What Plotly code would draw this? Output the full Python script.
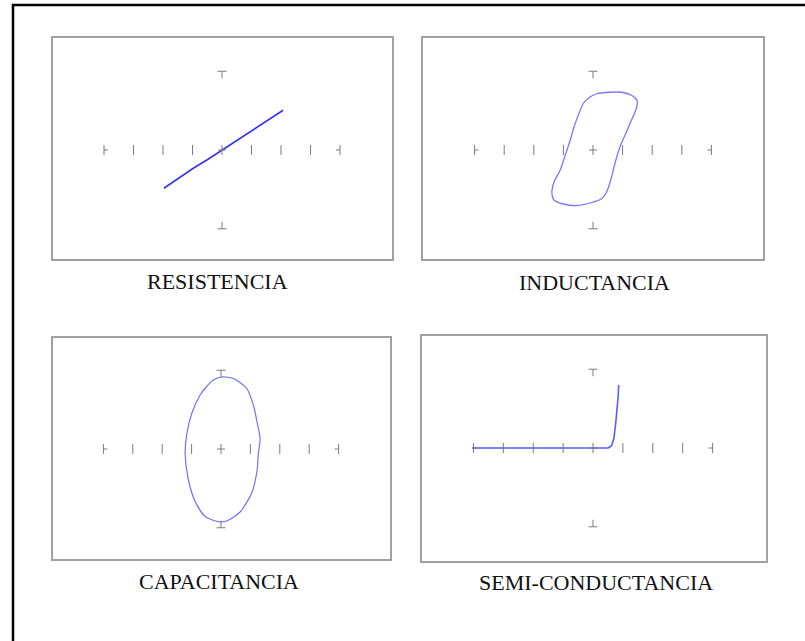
import plotly.graph_objects as go

W, H = 805, 641

# ---------------- data (x in screen divisions, y normalised to T marker) -------------
TITLES = ["RESISTENCIA", "INDUCTANCIA", "CAPACITANCIA", "SEMI-CONDUCTANCIA"]

TICKS_X = [-4, -3, -2, -1, 0, 1, 2, 3, 4]
TICK_Y_MARK = 1.05

res_x = [-1.97, -1.5, -1.0, -0.5, 0.0, 0.5, 1.0, 1.5, 2.07]
res_y = [-0.51, -0.38, -0.25, -0.13, 0.0, 0.13, 0.26, 0.39, 0.53]

ind_x = [-0.33, -0.16, 0.12, 0.57, 0.97, 1.30, 1.49, 1.47, 1.30, 1.13, 0.91, 0.74, 0.60,
         0.46, 0.29, -0.04, -0.55, -1.00, -1.31, -1.39, -1.31, -1.11, -0.94, -0.77, -0.64,
         -0.49, -0.33]
ind_y = [0.62, 0.69, 0.75, 0.77, 0.77, 0.73, 0.66, 0.56, 0.40, 0.24, 0.04, -0.18, -0.40,
         -0.56, -0.65, -0.70, -0.74, -0.72, -0.67, -0.58, -0.42, -0.27, -0.07, 0.13, 0.31,
         0.47, 0.62]

cap_x = [0.02, 0.42, 0.87, 1.12, 1.21, 1.33, 1.27, 1.23, 1.04, 0.65, 0.19, -0.09, -0.54,
         -0.88, -1.11, -1.22, -1.16, -0.99, -0.71, -0.54, -0.26, 0.02]
cap_y = [0.96, 0.94, 0.81, 0.56, 0.39, 0.14, -0.06, -0.28, -0.59, -0.84, -0.96, -0.97,
         -0.90, -0.70, -0.41, -0.06, 0.21, 0.48, 0.72, 0.81, 0.92, 0.96]

semi_x = [-4.05, -3.0, -2.0, -1.0, 0.0, 0.51, 0.62, 0.70, 0.76, 0.81, 0.84, 0.86]
semi_y = [0.0, 0.0, 0.0, 0.0, 0.0, 0.0, 0.03, 0.13, 0.33, 0.51, 0.68, 0.84]

SERIES = [(res_x, res_y), (ind_x, ind_y), (cap_x, cap_y), (semi_x, semi_y)]

# ---------------- layout geometry (pixels) ----------------
PANELS = [
    dict(box=(53, 38, 392, 259), c=(222, 150), xu=29.5, yu=75, title=(217.5, 281)),
    dict(box=(423, 38, 763, 259), c=(593, 150), xu=29.6, yu=75, title=(594, 282)),
    dict(box=(53, 338, 390, 559), c=(221, 449), xu=29.4, yu=75, title=(219, 581)),
    dict(box=(422, 336, 766, 561), c=(593, 448), xu=29.9, yu=75, title=(595.5, 582)),
]
LINE_STYLES = [
    dict(color="#3434ee", width=1.6),
    dict(color="#7878ff", width=1.3),
    dict(color="#7070ff", width=1.2),
    dict(color="#5a5aff", width=1.6),
]
SHAPES = ["linear", "spline", "spline", "linear"]

fig = go.Figure()
shapes = []
annotations = []
TICK_COL = "#7a7a7a"

for i, p in enumerate(PANELS):
    n = i + 1
    xa = "xaxis" if n == 1 else f"xaxis{n}"
    ya = "yaxis" if n == 1 else f"yaxis{n}"
    xr = "x" if n == 1 else f"x{n}"
    yr = "y" if n == 1 else f"y{n}"
    x0, y0, x1, y1 = p["box"]
    cx, cy = p["c"]
    xu, yu = p["xu"], p["yu"]
    fig.update_layout(**{
        xa: dict(domain=[x0 / W, x1 / W], range=[(x0 - cx) / xu, (x1 - cx) / xu],
                 showgrid=False, zeroline=False, showticklabels=False, ticks="",
                 showline=True, mirror=True, linecolor="#a0a0a0", linewidth=1.5,
                 anchor=yr, fixedrange=True),
        ya: dict(domain=[1 - y1 / H, 1 - y0 / H], range=[(cy - y1) / yu, (cy - y0) / yu],
                 showgrid=False, zeroline=False, showticklabels=False, ticks="",
                 showline=True, mirror=True, linecolor="#a0a0a0", linewidth=1.5,
                 anchor=xr, fixedrange=True),
    })

    th = 5.0 / yu      # half tick height
    stub = 4.0 / xu    # end stub length
    bw = 4.5 / xu      # T bar half width
    stem = 7.0 / yu    # T stem length
    ln = dict(color=TICK_COL, width=1)
    for t in TICKS_X:
        shapes.append(dict(type="line", xref=xr, yref=yr, x0=t, x1=t, y0=-th, y1=th, line=ln))
    shapes.append(dict(type="line", xref=xr, yref=yr, x0=TICKS_X[0], x1=TICKS_X[0] + stub,
                       y0=0, y1=0, line=ln))
    shapes.append(dict(type="line", xref=xr, yref=yr, x0=TICKS_X[-1], x1=TICKS_X[-1] - stub,
                       y0=0, y1=0, line=ln))
    shapes.append(dict(type="line", xref=xr, yref=yr, x0=-stub, x1=stub, y0=0, y1=0, line=ln))
    for s in (1, -1):
        ym = s * TICK_Y_MARK
        shapes.append(dict(type="line", xref=xr, yref=yr, x0=-bw, x1=bw, y0=ym, y1=ym, line=ln))
        shapes.append(dict(type="line", xref=xr, yref=yr, x0=0, x1=0, y0=ym, y1=ym - s * stem,
                           line=ln))

    sx, sy = SERIES[i]
    fig.add_trace(go.Scatter(x=sx, y=sy, mode="lines", xaxis=xr, yaxis=yr,
                             line=dict(shape=SHAPES[i], smoothing=0.7, **LINE_STYLES[i]),
                             showlegend=False, hoverinfo="skip"))

    tx, ty = p["title"]
    annotations.append(dict(text=TITLES[i], xref="paper", yref="paper", x=tx / W, y=1 - ty / H,
                            xanchor="center", yanchor="middle", showarrow=False,
                            font=dict(family="Liberation Serif", size=22, color="#111111")))

# outer frame: top and left lines only
shapes.append(dict(type="line", xref="paper", yref="paper", x0=12 / W, x1=1.0,
                   y0=1 - 5 / H, y1=1 - 5 / H, line=dict(color="black", width=2.5)))
shapes.append(dict(type="line", xref="paper", yref="paper", x0=13 / W, x1=13 / W,
                   y0=1 - 4 / H, y1=0, line=dict(color="black", width=2.5)))

fig.update_layout(width=W, height=H, margin=dict(l=0, r=0, t=0, b=0),
                  paper_bgcolor="white", plot_bgcolor="white",
                  shapes=shapes, annotations=annotations, showlegend=False)

fig.write_html("out.html", config=dict(displayModeBar=False),
               post_script="document.body.style.margin='0';document.body.style.overflow='hidden';")
